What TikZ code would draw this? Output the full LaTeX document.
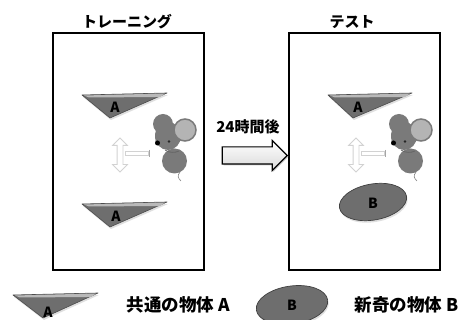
\documentclass[tikz,border=0pt]{standalone}
\usepackage{fontspec}
\setmainfont{Noto Sans CJK JP}
\usetikzlibrary{shapes.arrows,shadows}

\definecolor{objgray}{HTML}{6E6E6E}
\definecolor{mousegray}{HTML}{7A7A7A}
\definecolor{eargray}{HTML}{B4B4B4}

\tikzset{
  box/.style={draw=black, line width=1.3pt, fill=white, minimum width=151pt, minimum height=237pt},
  title/.style={font=\bfseries\fontsize{15}{15}\selectfont},
  legend/.style={font=\bfseries\fontsize{17.5}{17.5}\selectfont, anchor=west},
  objlabel/.style={font=\bfseries\fontsize{14}{14}\selectfont, inner sep=0pt},
  objtri/.style={fill=objgray, draw=black!70, line width=0.6pt, line join=round,
    drop shadow={shadow xshift=1pt, shadow yshift=-2pt, opacity=0.25}},
  objell/.style={fill=objgray, draw=black!75, line width=0.7pt,
    drop shadow={shadow xshift=1pt, shadow yshift=-2pt, opacity=0.25}},
  bigarrow/.style={single arrow, draw=black, line width=1.2pt, top color=white, bottom color=gray!30,
    inner sep=8pt, minimum height=65pt, single arrow head extend=6.5pt,
    drop shadow={shadow xshift=1.2pt, shadow yshift=-1.2pt, opacity=0.4}},
  updown/.style={double arrow, draw=gray!35, line width=0.8pt, fill=white, rotate=90,
    inner sep=2.5pt, minimum height=34pt, double arrow head extend=4.5pt}
}

\begin{document}
\begin{tikzpicture}[x=1pt, y=-1pt]
\useasboundingbox (0,0) rectangle (459,320);

% the two sessions
\node[box] (train) at (128.5,151.5) {};
\node[box] (test) at (364.5,151.5) {};
\node[title] (traintitle) at (127,22) {トレーニング};
\node[title] (testtitle) at (352,22) {テスト};

% objects during training
\path[objtri] (82,95) -- (167,93) -- (110,118) -- cycle;
\path[fill=gray!55] (84,95.5) -- (165,93.5) -- (160,97) -- (89,97.5) -- cycle;
\node[objlabel] (a1) at (115,107) {A};
\path[objtri] (82,204) -- (167,202) -- (110,227) -- cycle;
\path[fill=gray!55] (84,204.5) -- (165,202.5) -- (160,206) -- (89,206.5) -- cycle;
\node[objlabel] (a2) at (116,216) {A};

% objects during the test
\path[objtri] (328,95) -- (412,93) -- (353,118) -- cycle;
\path[fill=gray!55] (330,95.5) -- (410,93.5) -- (405,97) -- (335,97.5) -- cycle;
\node[objlabel] (a3) at (358,107) {A};
\path[objell, rotate around={10:(373,202)}] (373,202) ellipse [x radius=34pt, y radius=18pt];
\node[objlabel] (b1) at (373,203) {B};

% mouse and its choice, same in both boxes
\foreach \dx in {0,236} {
  \node[updown] (ud) at (120+\dx,155) {};
  \draw[gray!35, line width=0.8pt, fill=white] (125+\dx,151.5) rectangle (148+\dx,155.5);
  \draw[gray!70, line width=1.2pt] (149.5+\dx,150) -- (149.5+\dx,157);
  \fill[mousegray] (163+\dx,124) circle (10pt);
  \fill[mousegray] (168+\dx,136) ellipse [x radius=13pt, y radius=14pt];
  \fill[mousegray] (161+\dx,141) circle (5.5pt);
  \fill[mousegray] (174.5+\dx,161) circle (12.5pt);
  \draw[gray, line width=0.6pt] (180+\dx,172) .. controls (177+\dx,176) and (178+\dx,178) .. (181+\dx,181);
  \draw[black!60, line width=0.8pt] (165+\dx,150) .. controls (169+\dx,153) and (175+\dx,153) .. (179+\dx,151);
  \filldraw[fill=eargray, draw=mousegray, line width=1.5pt] (185+\dx,130) circle (11pt);
  \fill[black] (157.5+\dx,143) circle (2.5pt);
  \fill[black!85] (169+\dx,141.5) circle (1.4pt);
}

% time between the sessions
\node[bigarrow] (delay) at (250.5,155.5) {};
\node[title] (delaytext) at (248,127) {24時間後};

% legend
\path[objtri] (13,295) -- (98,293) -- (43,318) -- cycle;
\path[fill=gray!55] (15,295.5) -- (96,293.5) -- (91,297) -- (20,297.5) -- cycle;
\node[objlabel] (a4) at (48,312) {A};
\node[legend] (legA) at (123,305) {共通の物体 A};
\path[objell, rotate around={8:(292,305)}] (292,305) ellipse [x radius=36pt, y radius=19pt];
\node[objlabel] (b2) at (292,305) {B};
\node[legend] (legB) at (351,305) {新奇の物体 B};
\end{tikzpicture}
\end{document}
